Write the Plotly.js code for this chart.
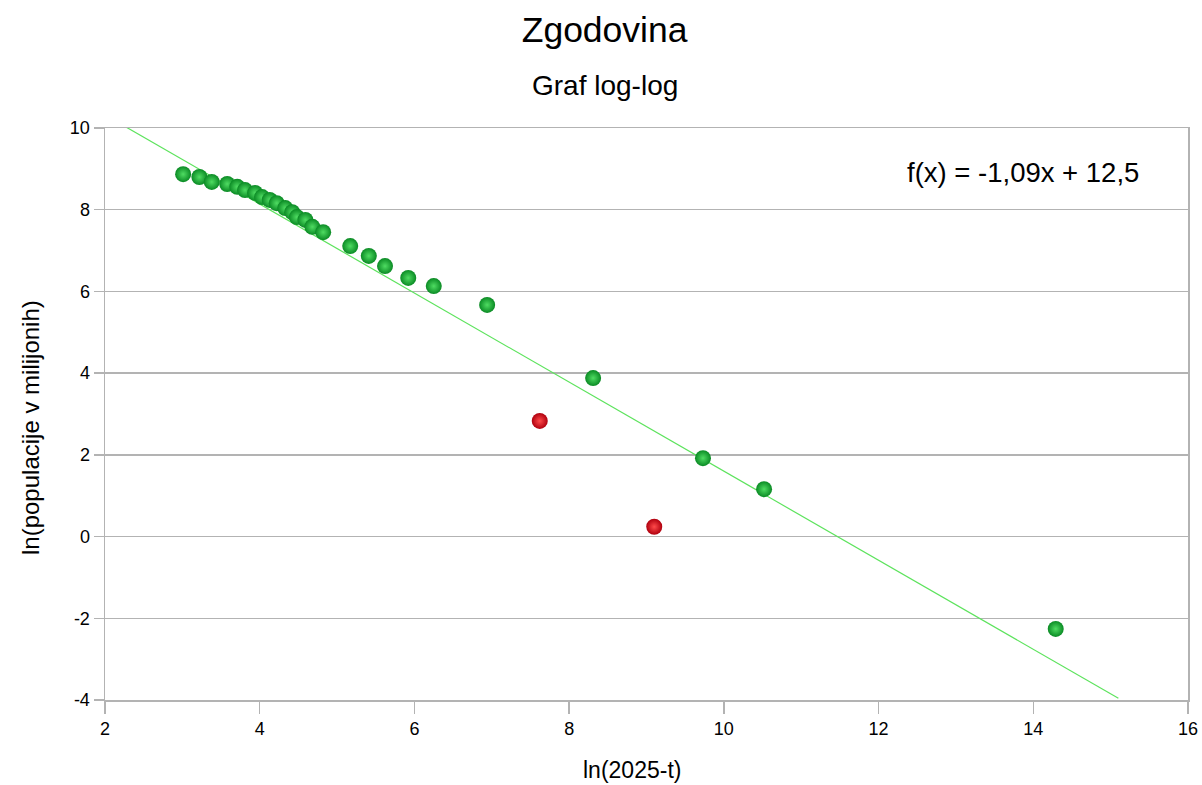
<!DOCTYPE html>
<html>
<head>
<meta charset="utf-8">
<script src="https://cdn.plot.ly/plotly-3.0.1.min.js"></script>
<style>html,body{margin:0;padding:0;background:#fff;}#chart{width:1202px;height:785px;}</style>
</head>
<body>
<div id="chart"></div>
<script>
// Green (fitted) points: ln(2025 - t) vs ln(population in millions)
const greenX = [3.01, 3.22, 3.38, 3.58, 3.71, 3.81, 3.94, 4.03, 4.13, 4.22, 4.33, 4.42, 4.48, 4.59, 4.68, 4.82, 5.17, 5.41, 5.62, 5.92, 6.25, 6.94, 8.31, 9.73, 10.52, 14.29];
const greenY = [8.87, 8.80, 8.68, 8.63, 8.56, 8.48, 8.41, 8.31, 8.24, 8.16, 8.04, 7.94, 7.82, 7.75, 7.58, 7.45, 7.11, 6.87, 6.62, 6.33, 6.13, 5.67, 3.88, 1.92, 1.16, -2.26];
// Red (outlier) points
const redX = [7.62, 9.10];
const redY = [2.83, 0.24];
// Trendline f(x) = -1.09x + 12.5
const slope = -1.09;
const intercept = 12.5;
const trendXRange = [2.28, 15.1];
const trendY = trendXRange.map(x => slope * x + intercept);

// Tick labels
const xTickVals = [2, 4, 6, 8, 10, 12, 14, 16];
const xTickText = ["2", "4", "6", "8", "10", "12", "14", "16"];
const yTickVals = [-4, -2, 0, 2, 4, 6, 8, 10];
const yTickText = ["-4", "-2", "0", "2", "4", "6", "8", "10"];

const titleText = "Zgodovina";
const subtitleText = "Graf log-log";
const xTitle = "ln(2025-t)";
const yTitle = "ln(populacije v milijonih)";
const eqText = "f(x) = -1,09x + 12,5";

const font = "Liberation Sans, Arial, sans-serif";

const traces = [
  {
    x: trendXRange, y: trendY, mode: 'lines', type: 'scatter',
    line: {color: '#5de35d', width: 1.2}, hoverinfo: 'skip', showlegend: false
  },
  {
    x: greenX, y: greenY, mode: 'markers', type: 'scatter', showlegend: false,
    marker: {size: 16, color: '#0a8a24', line: {width: 0},
      gradient: {type: 'radial', color: '#4fdc62'}}
  },
  {
    x: redX, y: redY, mode: 'markers', type: 'scatter', showlegend: false,
    marker: {size: 16, color: '#b0000e', line: {width: 0},
      gradient: {type: 'radial', color: '#ff4a4a'}}
  }
];

const layout = {
  width: 1202, height: 785,
  margin: {l: 105, r: 14, t: 128, b: 85},
  paper_bgcolor: '#fff', plot_bgcolor: '#fff',
  font: {family: font, color: '#000'},
  title: {text: titleText, font: {family: font, size: 35.5, color: '#000'}, x: 0.503, xanchor: 'center', y: 0.962, yanchor: 'middle'},
  showlegend: false,
  xaxis: {
    range: [2, 16], tickmode: 'array', tickvals: xTickVals, ticktext: xTickText,
    showgrid: false, zeroline: false,
    showline: true, linecolor: '#b3b3b3', linewidth: 1.5, mirror: true,
    ticks: 'outside', ticklen: 12, tickcolor: '#b3b3b3', tickwidth: 1.5,
    tickfont: {family: font, size: 18, color: '#000'}
  },
  yaxis: {
    range: [-4, 10], tickmode: 'array', tickvals: yTickVals, ticktext: yTickText,
    showgrid: true, gridcolor: '#b3b3b3', gridwidth: 1.5,
    zeroline: false, showline: true, linecolor: '#b3b3b3', linewidth: 1.5, mirror: true,
    ticks: 'outside', ticklen: 10, tickcolor: '#b3b3b3', tickwidth: 1.5,
    tickfont: {family: font, size: 18, color: '#000'}
  },
  annotations: [
    {text: subtitleText, xref: 'paper', yref: 'paper', x: 0.4617, y: 1.075, xanchor: 'center', yanchor: 'middle',
      showarrow: false, font: {family: font, size: 28, color: '#000'}},
    {text: eqText, xref: 'x', yref: 'y', x: 15.39, y: 8.92, xanchor: 'right', yanchor: 'middle',
      showarrow: false, font: {family: font, size: 27.5, color: '#000'}},
    {text: xTitle, xref: 'paper', yref: 'paper', x: 0.487, y: 0, yshift: -70, xanchor: 'center', yanchor: 'middle',
      showarrow: false, font: {family: font, size: 23, color: '#000'}},
    {text: yTitle, xref: 'paper', yref: 'paper', x: 0, xshift: -75, y: 0.4755, xanchor: 'center', yanchor: 'middle',
      textangle: -90, showarrow: false, font: {family: font, size: 24, color: '#000'}}
  ]
};

Plotly.newPlot('chart', traces, layout, {displayModeBar: false, staticPlot: true});
</script>
</body>
</html>
